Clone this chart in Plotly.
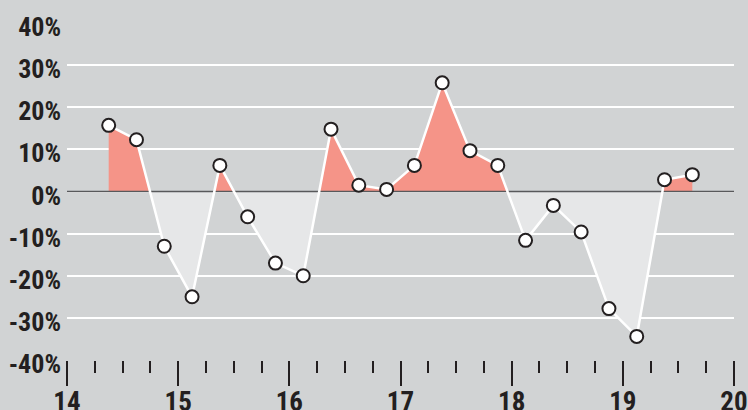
import plotly.graph_objects as go

# Data: quarterly values (%), centered mid-quarter
x_vals = [14.375, 14.625, 14.875, 15.125, 15.375, 15.625, 15.875, 16.125,
          16.375, 16.625, 16.875, 17.125, 17.375, 17.625, 17.875, 18.125,
          18.375, 18.625, 18.875, 19.125, 19.375, 19.625]
y_vals = [15.7, 12.3, -13.0, -25.0, 6.2, -6.0, -17.0, -20.0,
          14.8, 1.5, 0.5, 6.2, 25.8, 9.7, 6.2, -11.6,
          -3.3, -9.6, -27.8, -34.4, 2.8, 4.0]
x_ticks = [14, 15, 16, 17, 18, 19, 20]
y_ticks = [-40, -30, -20, -10, 0, 10, 20, 30, 40]
X_RANGE = [14, 20]
Y_RANGE = [-40, 40]


def split_series(xs, ys):
    """Build clipped positive / negative series with zero crossings inserted."""
    px, py, nx, ny = [], [], [], []
    for i in range(len(xs)):
        if i > 0:
            x0, y0, x1, y1 = xs[i - 1], ys[i - 1], xs[i], ys[i]
            if (y0 > 0 > y1) or (y0 < 0 < y1):
                xc = x0 + (x1 - x0) * (0 - y0) / (y1 - y0)
                px.append(xc); py.append(0)
                nx.append(xc); ny.append(0)
        px.append(xs[i]); py.append(max(ys[i], 0))
        nx.append(xs[i]); ny.append(min(ys[i], 0))
    return px, py, nx, ny


px, py, nx, ny = split_series(x_vals, y_vals)

BG = "#d1d3d4"
DARK = "#231f20"
FONT = "Liberation Sans Narrow, Arial Narrow, Roboto Condensed, Liberation Sans, Arial, sans-serif"

fig = go.Figure()
fig.add_trace(go.Scatter(x=nx, y=ny, mode="lines", line=dict(width=0),
                         fill="tozeroy", fillcolor="#e6e7e8", hoverinfo="skip"))
fig.add_trace(go.Scatter(x=px, y=py, mode="lines", line=dict(width=0),
                         fill="tozeroy", fillcolor="#f59488", hoverinfo="skip"))
# zero baseline
fig.add_trace(go.Scatter(x=X_RANGE, y=[0, 0], mode="lines",
                         line=dict(color="#58595b", width=1.6), hoverinfo="skip"))
fig.add_trace(go.Scatter(x=x_vals, y=y_vals, mode="lines+markers",
                         line=dict(color="white", width=2.5),
                         marker=dict(size=13, color="white",
                                     line=dict(color=DARK, width=2))))

fig.update_layout(
    width=748, height=410,
    margin=dict(l=67, r=14, t=23, b=50),
    paper_bgcolor=BG, plot_bgcolor=BG,
    showlegend=False,
    font=dict(family=FONT, color=DARK, size=26),
)
fig.update_xaxes(
    range=X_RANGE, tickvals=x_ticks, ticktext=[str(v) for v in x_ticks],
    showgrid=False, zeroline=False, showline=False, automargin=False,
    ticks="outside", ticklen=25, tickwidth=2, tickcolor=DARK,
    ticklabelstandoff=-7,
    minor=dict(dtick=0.25, tick0=14, ticks="outside", ticklen=12,
               tickwidth=2, tickcolor=DARK, showgrid=False),
    tickfont=dict(family=FONT, size=27, color=DARK, weight="bold"),
)
fig.update_yaxes(
    range=Y_RANGE, tickvals=y_ticks, ticktext=[f"{v}%" for v in y_ticks],
    showgrid=True, gridcolor="white", gridwidth=1.5, automargin=False,
    zeroline=False, showline=False, ticks="", ticklabelstandoff=5,
    ticklabelshift=4,
    tickfont=dict(family=FONT, size=26, color=DARK, weight="bold"),
)

fig.write_html("out.html")
